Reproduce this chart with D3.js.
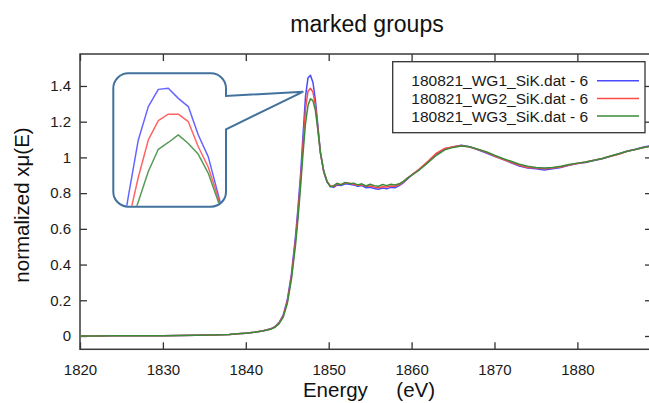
<!DOCTYPE html>
<html><head><meta charset="utf-8">
<script src="https://cdn.jsdelivr.net/npm/d3@7"></script>
<style>body{margin:0;background:#fff}svg{display:block}text{font-family:"Liberation Sans",Arial,sans-serif}</style>
</head><body><svg id="c" width="649" height="403"></svg>
<script>
const energy = [1820,1822,1824,1826,1828,1830,1832,1834,1836,1838,1839,1840,1841,1842,1843,1843.5,1844,1844.5,1845,1845.5,1846,1846.3,1846.6,1846.9,1847.2,1847.5,1847.8,1848.1,1848.4,1848.7,1849,1849.4,1849.8,1850.2,1850.6,1851,1851.5,1852,1852.5,1853,1853.5,1854,1854.5,1855,1855.5,1856,1856.5,1857,1857.5,1858,1858.5,1859,1859.5,1860,1861,1862,1863,1864,1865,1866,1867,1868,1869,1870,1871,1872,1873,1874,1875,1876,1877,1878,1879,1880,1881,1882,1883,1884,1885,1886,1887,1888,1889];
const wg1 = [0,0,0.001,0.001,0.002,0.002,0.003,0.004,0.006,0.009,0.012,0.016,0.021,0.028,0.040,0.052,0.075,0.115,0.200,0.345,0.560,0.720,0.900,1.120,1.340,1.445,1.460,1.420,1.320,1.175,1.030,0.920,0.862,0.838,0.832,0.845,0.842,0.852,0.850,0.846,0.838,0.842,0.830,0.833,0.826,0.822,0.828,0.824,0.832,0.830,0.842,0.858,0.880,0.900,0.935,0.975,1.020,1.048,1.058,1.068,1.060,1.042,1.025,1.006,0.990,0.970,0.952,0.940,0.936,0.930,0.936,0.944,0.956,0.966,0.972,0.982,0.992,1.006,1.020,1.034,1.046,1.058,1.066];
const wg2 = [0,0,0.001,0.001,0.002,0.002,0.003,0.004,0.006,0.009,0.012,0.016,0.021,0.028,0.039,0.050,0.072,0.110,0.190,0.330,0.535,0.690,0.865,1.070,1.270,1.370,1.387,1.365,1.290,1.160,1.025,0.920,0.865,0.842,0.838,0.850,0.848,0.858,0.856,0.850,0.844,0.846,0.838,0.840,0.834,0.830,0.836,0.834,0.840,0.838,0.848,0.862,0.884,0.902,0.938,0.980,1.024,1.050,1.060,1.066,1.058,1.044,1.028,1.008,0.990,0.972,0.956,0.944,0.940,0.936,0.940,0.946,0.958,0.966,0.974,0.984,0.994,1.006,1.018,1.034,1.044,1.056,1.064];
const wg3 = [0,0,0.001,0.001,0.002,0.002,0.003,0.004,0.006,0.009,0.012,0.016,0.021,0.028,0.038,0.048,0.068,0.104,0.180,0.315,0.510,0.660,0.830,1.020,1.190,1.290,1.328,1.318,1.262,1.150,1.025,0.925,0.866,0.835,0.842,0.855,0.846,0.860,0.852,0.856,0.846,0.852,0.840,0.850,0.842,0.838,0.848,0.842,0.850,0.846,0.852,0.866,0.884,0.900,0.932,0.972,1.012,1.042,1.056,1.064,1.060,1.046,1.032,1.012,0.994,0.978,0.962,0.950,0.944,0.940,0.944,0.950,0.960,0.968,0.974,0.984,0.994,1.008,1.020,1.034,1.044,1.056,1.064];
const seriesNames = ["180821_WG1_SiK.dat - 6","180821_WG2_SiK.dat - 6","180821_WG3_SiK.dat - 6"];
const seriesColors = ["#4a4aff","#ff4a4a","#3a8a3a"];
const insetEnergy = [1846.3,1846.6,1846.9,1847.2,1847.5,1847.8,1848.1,1848.4,1848.7,1849.0,1849.3,1849.6];
const insetWg1 = [0.990,1.159,1.317,1.410,1.458,1.461,1.433,1.410,1.331,1.270,1.164,1.060];
const insetWg2 = [0.960,1.090,1.213,1.317,1.371,1.389,1.389,1.368,1.298,1.241,1.155,1.060];
const insetWg3 = [0.980,1.062,1.145,1.229,1.291,1.310,1.331,1.307,1.277,1.224,1.145,1.060];
const xTicks = [1820,1830,1840,1850,1860,1870,1880];
const yTicks = [0,0.2,0.4,0.6,0.8,1,1.2,1.4];

const svg = d3.select("#c");
const L=80,R=652,T=54,B=349.3;
const x = d3.scaleLinear().domain([1820,1889]).range([L,R]);
const y = d3.scaleLinear().domain([-0.0745,1.579]).range([B,T]);

svg.append("text").attr("x",367).attr("y",32).attr("text-anchor","middle")
  .attr("font-size",23).attr("fill","#111").text("marked groups");

// axes
const fmt = d3.format("~g");
const gx = svg.append("g").attr("transform",`translate(0,${B})`)
  .call(d3.axisBottom(x).tickValues(xTicks).tickSize(-7).tickPadding(15).tickFormat(d=>String(d)));
const gy = svg.append("g").attr("transform",`translate(${L},0)`)
  .call(d3.axisLeft(y).tickValues(yTicks).tickSize(-7).tickPadding(9).tickFormat(d=>fmt(d)));
const gt = svg.append("g").attr("transform",`translate(0,${T})`)
  .call(d3.axisTop(x).tickValues(xTicks).tickSize(-7).tickFormat(""));
const gr = svg.append("g").attr("transform",`translate(${R},0)`)
  .call(d3.axisRight(y).tickValues(yTicks).tickSize(-7).tickFormat(""));
[gx,gy,gt,gr].forEach(g=>{
  g.select(".domain").remove();
  g.selectAll("line").attr("stroke","#333").attr("stroke-width",1.3);
  g.selectAll("text").attr("font-size",15).attr("fill","#1a1a1a").attr("font-family","Liberation Sans, Arial, sans-serif");
});
svg.append("rect").attr("x",L).attr("y",T).attr("width",R-L).attr("height",B-T)
  .attr("fill","none").attr("stroke","#3a3a3a").attr("stroke-width",1.5);

svg.append("text").attr("transform","translate(29,205) rotate(-90)").attr("text-anchor","middle")
  .attr("font-size",20.5).attr("fill","#111").text("normalized xμ(E)");
svg.append("text").attr("x",369).attr("y",397).attr("text-anchor","middle")
  .attr("font-size",20.5).attr("fill","#111").attr("xml:space","preserve").style("white-space","pre")
  .text("Energy     (eV)");

// callout inset shape
const iL=113.3,iT=73.3,iR=226,iB=206.7,rr=15;
const tip=[303.3,91.7];
const callout = `M${iL+rr},${iT} H${iR-rr} A${rr},${rr} 0 0 1 ${iR},${iT+rr} V96 L${tip[0]},${tip[1]} L${iR},129.3 V${iB-rr} A${rr},${rr} 0 0 1 ${iR-rr},${iB} H${iL+rr} A${rr},${rr} 0 0 1 ${iL},${iB-rr} V${iT+rr} A${rr},${rr} 0 0 1 ${iL+rr},${iT} Z`;
svg.append("path").attr("d",callout).attr("fill","#fff").attr("stroke","#41719c").attr("stroke-width",2);

// main curves
svg.append("clipPath").attr("id","pc").append("rect").attr("x",L).attr("y",T).attr("width",R-L).attr("height",B-T);
const line = d3.line().x((d,i)=>x(energy[i])).y(d=>y(d));
const gm = svg.append("g").attr("clip-path","url(#pc)");
[wg1,wg2,wg3].forEach((s,k)=>{
  gm.append("path").attr("d",line(s)).attr("fill","none").attr("stroke",seriesColors[k]).attr("stroke-width",1.5).attr("stroke-linejoin","round");
});

// inset curves
const ix = d3.scaleLinear().domain([1846.6,1849.3]).range([128.3,218.3]);
const iy = d3.scaleLinear().domain([1.131,1.461]).range([iB,88.3]);
svg.append("clipPath").attr("id","ic").append("rect").attr("x",iL+1).attr("y",iT+1).attr("width",iR-iL-2).attr("height",iB-iT-2).attr("rx",rr-1);
const iline = d3.line().x((d,i)=>ix(insetEnergy[i])).y(d=>iy(d));
const gi = svg.append("g").attr("clip-path","url(#ic)");
[insetWg1,insetWg2,insetWg3].forEach((s,k)=>{
  gi.append("path").attr("d",iline(s)).attr("fill","none").attr("stroke",seriesColors[k]).attr("stroke-width",1.5).attr("stroke-linejoin","round").attr("stroke-opacity",0.85);
});

// legend
const lg = svg.append("g");
lg.append("rect").attr("x",392.7).attr("y",61.7).attr("width",645-392.7).attr("height",132.7-61.7)
  .attr("fill","#fff").attr("stroke","#333").attr("stroke-width",1.3);
seriesNames.forEach((n,k)=>{
  const cy = 80.7 + k*17.7;
  lg.append("text").attr("x",588).attr("y",cy+5.5).attr("text-anchor","end").attr("font-size",15.5).attr("fill","#1a1a1a").text(n);
  lg.append("line").attr("x1",597).attr("x2",639).attr("y1",cy).attr("y2",cy).attr("stroke",seriesColors[k]).attr("stroke-width",1.5);
});
</script></body></html>
